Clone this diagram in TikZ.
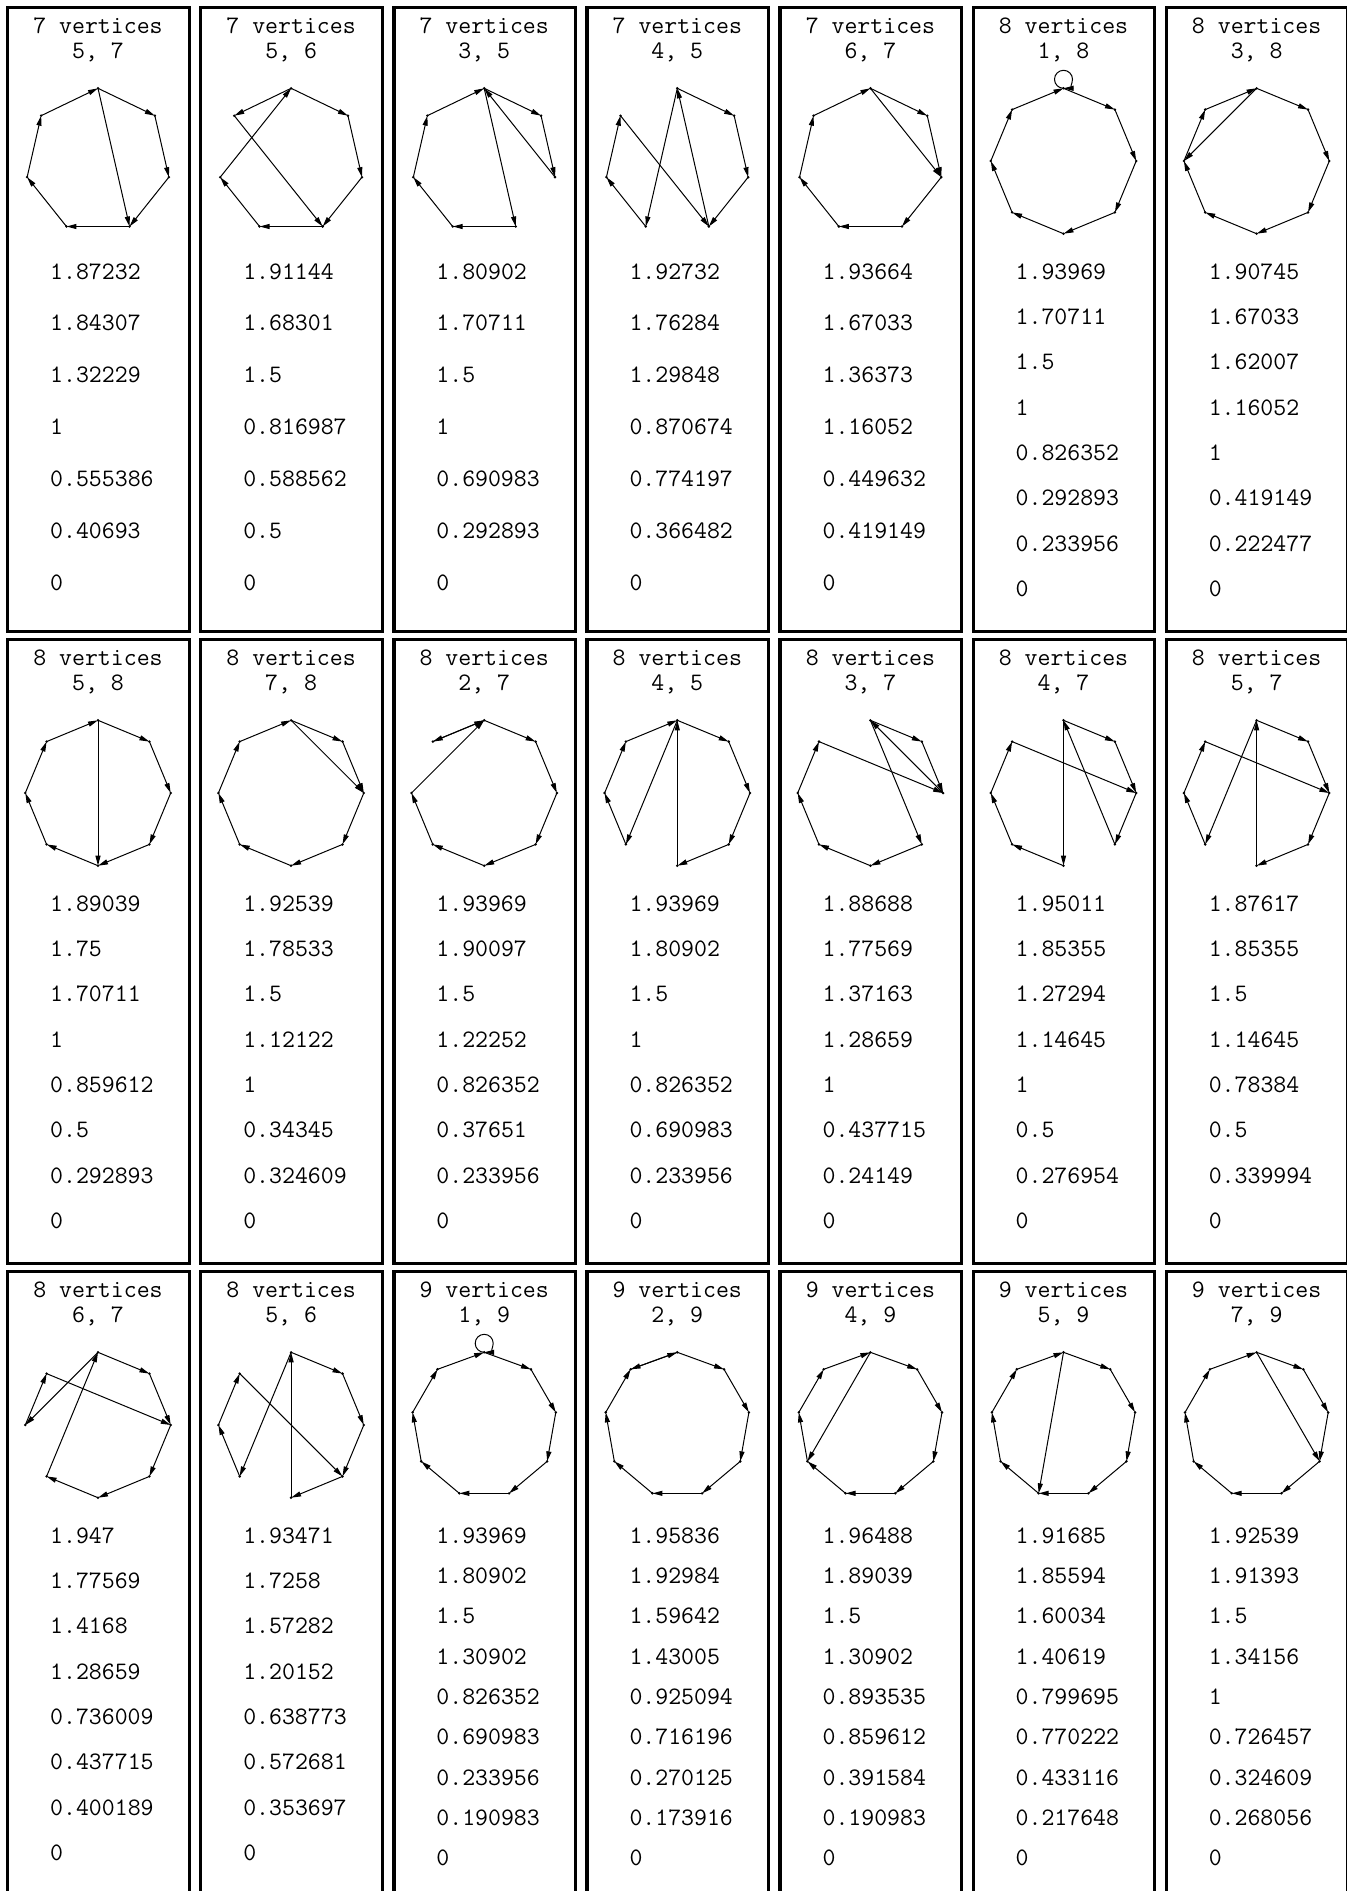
\documentclass[tikz,border=0pt]{standalone}
\usepackage{tikz}
\usetikzlibrary{arrows.meta}

% one framed panel: #1 column, #2 row, #3 vertices, #4 cycle lengths, #5 edges, #6 values
\newcommand{\graphpanel}[6]{%
  \pgfmathsetmacro{\px}{6+193.1*#1}
  \pgfmathsetmacro{\py}{6+632*#2}
  \pgfmathsetmacro{\cx}{\px+92}
  \pgfmathsetmacro{\cy}{\py+155}
  \pgfmathtruncatemacro{\nlast}{#3-1}
  \draw[panelbox] (\px+1.65,\py+1.65) rectangle ++(181.5,623.5);
  \node[txt, anchor=base] (h-#1-#2) at (\cx,\py+27.5) {#3 vertices};
  \node[txt, anchor=base] (c-#1-#2) at (\cx,\py+52.5) {#4};
  \foreach \i in {0,...,\nlast}
    \coordinate (v-#1-#2-\i) at ({\cx+72.7*sin(360*\i/#3)},{\cy-72.7*cos(360*\i/#3)});
  \foreach \a/\b in {#5}
    \draw[link] (v-#1-#2-\a) -- (v-#1-#2-\b);
  \foreach \i in {0,...,\nlast}
    \fill (v-#1-#2-\i) circle (1.4);
  \foreach \val [count=\k from 0] in {#6}
    \node[txt, anchor=base west] (n-#1-#2-\k) at (\px+44,{\py+273+\k*363/#3}) {\val};
}

\begin{document}
\begin{tikzpicture}[
    x=1pt, y=-1pt,
    panelbox/.style={line width=3.3pt},
    txt/.style={font=\ttfamily\fontsize{25.1}{25}\selectfont, inner sep=0pt},
    link/.style={-{Triangle[length=10pt,width=5pt]}, line width=1pt}
]
  \useasboundingbox (0,0) rectangle (1347,1891);
  \clip (0,0) rectangle (1347,1891);

  % Row 1
  \graphpanel{0}{0}{7}{5, 7}{0/1,1/2,2/3,3/4,4/5,5/6,6/0,0/3}
    {1.87232, 1.84307, 1.32229, 1, 0.555386, 0.40693, 0}
  \graphpanel{1}{0}{7}{5, 6}{0/1,1/2,2/3,3/4,4/5,5/0,0/6,6/3}
    {1.91144, 1.68301, 1.5, 0.816987, 0.588562, 0.5, 0}
  \graphpanel{2}{0}{7}{3, 5}{0/1,1/2,2/0,0/3,3/4,4/5,5/6,6/0}
    {1.80902, 1.70711, 1.5, 1, 0.690983, 0.292893, 0}
  \graphpanel{3}{0}{7}{4, 5}{0/1,1/2,2/3,3/0,0/4,4/5,5/6,6/3}
    {1.92732, 1.76284, 1.29848, 0.870674, 0.774197, 0.366482, 0}
  \graphpanel{4}{0}{7}{6, 7}{0/1,1/2,2/3,3/4,4/5,5/6,6/0,0/2}
    {1.93664, 1.67033, 1.36373, 1.16052, 0.449632, 0.419149, 0}
  \graphpanel{5}{0}{8}{1, 8}{0/1,1/2,2/3,3/4,4/5,5/6,6/7,7/0}
    {1.93969, 1.70711, 1.5, 1, 0.826352, 0.292893, 0.233956, 0}
  \draw[link] (v-5-0-0) arc[start angle=90, end angle=450, radius=9];
  \graphpanel{6}{0}{8}{3, 8}{0/1,1/2,2/3,3/4,4/5,5/6,6/7,7/0,0/6}
    {1.90745, 1.67033, 1.62007, 1.16052, 1, 0.419149, 0.222477, 0}

  % Row 2
  \graphpanel{0}{1}{8}{5, 8}{0/1,1/2,2/3,3/4,4/5,5/6,6/7,7/0,0/4}
    {1.89039, 1.75, 1.70711, 1, 0.859612, 0.5, 0.292893, 0}
  \graphpanel{1}{1}{8}{7, 8}{0/1,1/2,2/3,3/4,4/5,5/6,6/7,7/0,0/2}
    {1.92539, 1.78533, 1.5, 1.12122, 1, 0.34345, 0.324609, 0}
  \graphpanel{2}{1}{8}{2, 7}{0/1,1/2,2/3,3/4,4/5,5/6,6/0,0/7,7/0}
    {1.93969, 1.90097, 1.5, 1.22252, 0.826352, 0.37651, 0.233956, 0}
  \graphpanel{3}{1}{8}{4, 5}{0/1,1/2,2/3,3/4,4/0,0/5,5/6,6/7,7/0}
    {1.93969, 1.80902, 1.5, 1, 0.826352, 0.690983, 0.233956, 0}
  \graphpanel{4}{1}{8}{3, 7}{0/1,1/2,2/0,0/3,3/4,4/5,5/6,6/7,7/2}
    {1.88688, 1.77569, 1.37163, 1.28659, 1, 0.437715, 0.24149, 0}
  \graphpanel{5}{1}{8}{4, 7}{0/1,1/2,2/3,3/0,0/4,4/5,5/6,6/7,7/2}
    {1.95011, 1.85355, 1.27294, 1.14645, 1, 0.5, 0.276954, 0}
  \graphpanel{6}{1}{8}{5, 7}{0/1,1/2,2/3,3/4,4/0,0/5,5/6,6/7,7/2}
    {1.87617, 1.85355, 1.5, 1.14645, 0.78384, 0.5, 0.339994, 0}

  % Row 3
  \graphpanel{0}{2}{8}{6, 7}{0/1,1/2,2/3,3/4,4/5,5/0,0/6,6/7,7/2}
    {1.947, 1.77569, 1.4168, 1.28659, 0.736009, 0.437715, 0.400189, 0}
  \graphpanel{1}{2}{8}{5, 6}{0/1,1/2,2/3,3/4,4/0,0/5,5/6,6/7,7/3}
    {1.93471, 1.7258, 1.57282, 1.20152, 0.638773, 0.572681, 0.353697, 0}
  \graphpanel{2}{2}{9}{1, 9}{0/1,1/2,2/3,3/4,4/5,5/6,6/7,7/8,8/0}
    {1.93969, 1.80902, 1.5, 1.30902, 0.826352, 0.690983, 0.233956, 0.190983, 0}
  \draw[link] (v-2-2-0) arc[start angle=90, end angle=450, radius=9];
  \graphpanel{3}{2}{9}{2, 9}{0/1,1/2,2/3,3/4,4/5,5/6,6/7,7/8,8/0,0/8}
    {1.95836, 1.92984, 1.59642, 1.43005, 0.925094, 0.716196, 0.270125, 0.173916, 0}
  \graphpanel{4}{2}{9}{4, 9}{0/1,1/2,2/3,3/4,4/5,5/6,6/7,7/8,8/0,0/6}
    {1.96488, 1.89039, 1.5, 1.30902, 0.893535, 0.859612, 0.391584, 0.190983, 0}
  \graphpanel{5}{2}{9}{5, 9}{0/1,1/2,2/3,3/4,4/5,5/6,6/7,7/8,8/0,0/5}
    {1.91685, 1.85594, 1.60034, 1.40619, 0.799695, 0.770222, 0.433116, 0.217648, 0}
  \graphpanel{6}{2}{9}{7, 9}{0/1,1/2,2/3,3/4,4/5,5/6,6/7,7/8,8/0,0/3}
    {1.92539, 1.91393, 1.5, 1.34156, 1, 0.726457, 0.324609, 0.268056, 0}
\end{tikzpicture}
\end{document}
